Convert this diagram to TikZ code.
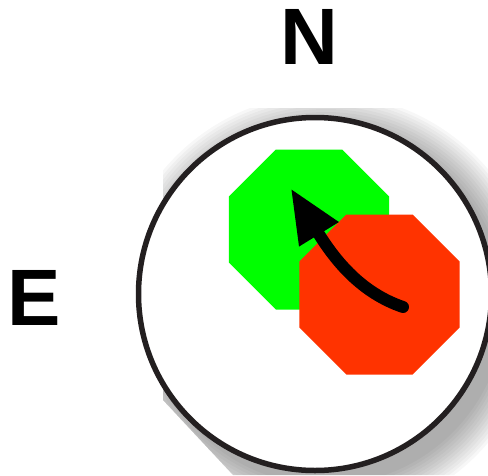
\documentclass[tikz,border=0pt]{standalone}
\usepackage{fontspec}
\setmainfont{Liberation Sans}
\usetikzlibrary{shapes.geometric,arrows.meta}
\definecolor{ringcol}{HTML}{231F20}
\definecolor{octgreen}{HTML}{00FF00}
\definecolor{octred}{HTML}{FF3300}
\tikzset{
  octagon/.style={regular polygon, regular polygon sides=8, minimum size=173.2pt, inner sep=0pt, outer sep=0pt, draw=none},
  letter/.style={font=\bfseries\fontsize{80}{80}\selectfont, anchor=base, inner sep=0pt},
  ring/.style={draw=ringcol, line width=5.5pt, fill=white},
  turn/.style={line width=12pt, line cap=round, black, -{Triangle[length=54pt,width=43pt]}}
}
\begin{document}
\begin{tikzpicture}[x=1pt,y=-1pt]
\useasboundingbox (0,0) rectangle (488,475);
% soft shadow
\begin{scope}
  \clip (163,108) -- (488,108) -- (488,475) -- (233,475) -- (163,400) -- cycle;
  \foreach \r in {212,209,...,179}{
    \fill[black, opacity=0.03] (326,306) circle[radius=\r];
  }
\end{scope}
% ring
\node[circle, ring, minimum size=353pt, inner sep=0pt] (ring) at (315,294) {};
% octagons
\node[octagon, fill=octgreen] (g) at (309,229.5) {};
\node[octagon, fill=octred] (r) at (379.5,294.5) {};
% arrow
\coordinate (tail) at (403,307);
\coordinate (tip) at (290.7,188.3);
\draw[turn] (tail) .. controls (362,293) and (336,262) .. (tip);
% labels
\node[letter] (n) at (309.5,64) {N};
\node[letter] (e) at (34,325) {E};
\end{tikzpicture}
\end{document}
